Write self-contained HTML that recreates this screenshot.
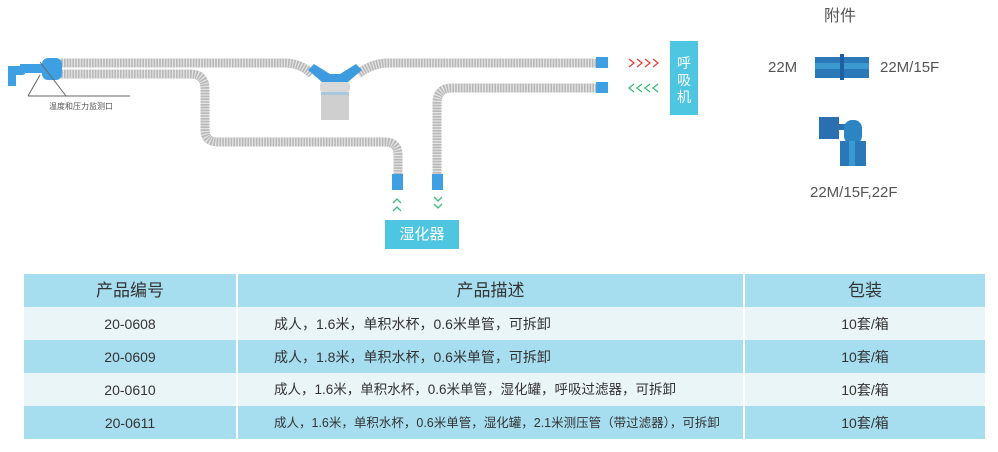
<!DOCTYPE html>
<html><head><meta charset="utf-8"><style>
body{margin:0;width:998px;height:452px;background:#fff;position:relative;overflow:hidden;font-family:"Liberation Sans","Noto Sans CJK SC",sans-serif;}
.abs{position:absolute}
table{position:absolute;left:24px;top:274px;width:961px;border-collapse:collapse;table-layout:fixed;font-size:14px;color:#333;}
td,th{text-align:center;height:33px;padding:0;border-left:2px solid #fff;box-sizing:border-box;line-height:16px}
td:first-child,th:first-child{border-left:none}
tr.b td{background:#a6def0}
tr.l td{background:#eaf5f8}
td.d{text-align:left;padding-left:36px;font-size:14px}
th{background:#a6def0;font-weight:normal;font-size:17px;}
</style></head><body>
<svg class="abs" style="left:0;top:0" width="998" height="270">
<g fill="none" stroke-linejoin="round" stroke-linecap="butt">
<g stroke="#b8b8b8" stroke-width="9">
<path d="M60 63 H285 Q300 63 312 74"/>
<path d="M358 74 Q372 63 388 63 H598"/>
<path d="M60 74 H190 Q205 74 205 89 V130 Q205 142 218 142 H385 Q398 142 398 155 V178"/>
<path d="M598 88 H452 Q437 88 437 103 V178"/>
</g>
<g stroke="#e4e4e4" stroke-width="9" stroke-dasharray="1.2 1.6">
<path d="M60 63 H285 Q300 63 312 74"/>
<path d="M358 74 Q372 63 388 63 H598"/>
<path d="M60 74 H190 Q205 74 205 89 V130 Q205 142 218 142 H385 Q398 142 398 155 V178"/>
<path d="M598 88 H452 Q437 88 437 103 V178"/>
</g>
</g>
<path d="M308 70 L322 82 L348 82 L362 70 L356 64 L340 74 L330 74 L314 64 Z" fill="#3d9be0"/>
<rect x="320" y="82" width="30" height="10" rx="3" fill="#d8d8d8"/>
<rect x="321" y="92" width="28" height="28" fill="#cfcfcf"/>
<rect x="321" y="92" width="28" height="3" fill="#a8c8e0"/>
<rect x="596" y="57" width="12" height="11" fill="#3f9fe3"/>
<rect x="596" y="82" width="12" height="11" fill="#3f9fe3"/>
<rect x="392" y="174" width="11" height="16" fill="#3f9fe3"/>
<rect x="432" y="174" width="11" height="16" fill="#3f9fe3"/>
<rect x="42" y="58" width="20" height="22" rx="6" fill="#3f9fe3"/>
<rect x="20" y="64" width="22" height="9" fill="#3f9fe3"/>
<rect x="8" y="66" width="8" height="20" fill="#3f9fe3"/>
<rect x="8" y="66" width="18" height="9" rx="4" fill="#3f9fe3"/>
<line x1="28" y1="96" x2="130" y2="96" stroke="#666" stroke-width="1"/>
<line x1="28" y1="96" x2="40" y2="75" stroke="#666"/>
<line x1="66" y1="96" x2="40" y2="62" stroke="#666"/>
<text x="49" y="109" font-size="8" fill="#555" font-family="Liberation Sans,Noto Sans CJK SC,sans-serif">温度和压力监测口</text>
<g fill="none" stroke-width="1.3">
<path d="M629 59 l5 4 l-5 4 M637 59 l5 4 l-5 4 M645 59 l5 4 l-5 4 M653 59 l5 4 l-5 4" stroke="#e8403a"/>
<path d="M634 84 l-5 4 l5 4 M642 84 l-5 4 l5 4 M650 84 l-5 4 l5 4 M658 84 l-5 4 l5 4" stroke="#3dbb7a"/>
<path d="M393 203 l4 -4 l4 4 M393 211 l4 -4 l4 4" stroke="#3dbb7a"/>
<path d="M434 197 l4 4 l4 -4 M434 204 l4 4 l4 -4" stroke="#3dbb7a"/>
</g>
<rect x="815" y="57" width="54" height="21" fill="#2a78b8"/>
<rect x="815" y="63" width="54" height="6" fill="#3a9ad0"/>
<rect x="840" y="54" width="4" height="26" fill="#1d5fa0"/>
<rect x="819" y="117" width="20" height="22" fill="#2a70b0"/>
<rect x="838" y="124" width="8" height="6" fill="#2a70b0"/>
<rect x="844" y="120" width="18" height="24" rx="8" fill="#2b85c2"/>
<rect x="840" y="141" width="26" height="25" fill="#2a78b8"/>
<rect x="849" y="141" width="6" height="25" fill="#3a9ad0"/>
</svg>
<div class="abs" style="left:670px;top:41px;width:28px;height:74px;background:#4ec6e2;color:#fff;font-size:14px;line-height:17px;text-align:center;padding-top:14px;box-sizing:border-box">呼<br>吸<br>机</div>
<div class="abs" style="left:385px;top:220px;width:74px;height:29px;background:#4ec6e2;color:#fff;font-size:15px;line-height:29px;text-align:center">湿化器</div>
<div class="abs" style="left:824px;top:2px;font-size:16px;color:#555">附件</div>
<div class="abs" style="left:768px;top:59px;font-size:15px;color:#555">22M</div>
<div class="abs" style="left:880px;top:59px;font-size:15px;color:#555">22M/15F</div>
<div class="abs" style="left:810px;top:184px;font-size:15px;color:#555">22M/15F,22F</div>
<table>
<colgroup><col style="width:213px"><col style="width:507px"><col style="width:241px"></colgroup>
<tr><th>产品编号</th><th>产品描述</th><th>包装</th></tr>
<tr class="l"><td>20-0608</td><td class="d">成人，1.6米，单积水杯，0.6米单管，可拆卸</td><td>10套/箱</td></tr>
<tr class="b"><td>20-0609</td><td class="d">成人，1.8米，单积水杯，0.6米单管，可拆卸</td><td>10套/箱</td></tr>
<tr class="l"><td>20-0610</td><td class="d" style="font-size:13.5px">成人，1.6米，单积水杯，0.6米单管，湿化罐，呼吸过滤器，可拆卸</td><td>10套/箱</td></tr>
<tr class="b"><td>20-0611</td><td class="d" style="font-size:12.5px">成人，1.6米，单积水杯，0.6米单管，湿化罐，2.1米测压管（带过滤器），可拆卸</td><td>10套/箱</td></tr>
</table>
</body></html>
